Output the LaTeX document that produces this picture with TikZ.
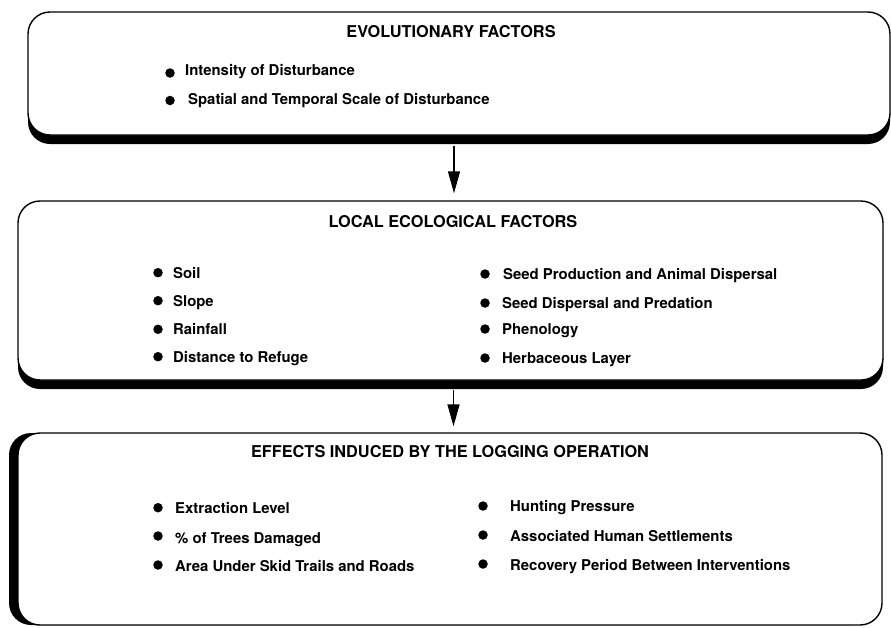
\documentclass[tikz,border=0pt]{standalone}
\usepackage{fontspec}
\setmainfont{TeX Gyre Heros}
\usetikzlibrary{shadows,arrows.meta}
\begin{document}
\begin{tikzpicture}[x=1pt,y=-1pt,
  panel/.style={draw,line width=1.4pt,fill=white,rounded corners=22pt,inner sep=0pt},
  shadowdown/.style={drop shadow={shadow xshift=0pt,shadow yshift=-9pt,opacity=1,fill=black}},
  shadowleft/.style={drop shadow={shadow xshift=-9pt,shadow yshift=0pt,opacity=1,fill=black}},
  ttl/.style={font=\fontsize{16.3}{18}\selectfont\bfseries,inner sep=0pt,anchor=base},
  itm/.style={font=\fontsize{14.9}{17}\selectfont\bfseries,inner sep=0pt,anchor=base west},
  dot/.style={circle,fill=black,inner sep=0pt,minimum size=9.5pt},
  arr/.style={line width=1.4pt,-{Triangle[length=22pt,width=12pt]}}]
\useasboundingbox (0,0) rectangle (891,627);

% panels
\node[panel,shadowdown,minimum width=862pt,minimum height=123pt] (b1) at (459,73.5) {};
\node[panel,shadowdown,minimum width=865pt,minimum height=179pt] (b2) at (450.5,290.5) {};
\node[panel,shadowleft,minimum width=864pt,minimum height=192pt] (b3) at (450,529) {};

% titles
\node[ttl] (t1) at (451,37) {EVOLUTIONARY FACTORS};
\node[ttl] (t2) at (453,227) {LOCAL ECOLOGICAL FACTORS};
\node[ttl] (t3) at (450,457) {EFFECTS INDUCED BY THE LOGGING OPERATION};

% box 1 items
\node[dot] (d11) at (170,73) {};
\node[itm] (i11) at (185,75) {Intensity of Disturbance};
\node[dot] (d12) at (170,100.5) {};
\node[itm] (i12) at (188,104) {Spatial and Temporal Scale of Disturbance};

% box 2 left
\node[dot] (d21) at (158,272.7) {};
\node[itm] (i21) at (173,278) {Soil};
\node[dot] (d22) at (158,300.7) {};
\node[itm] (i22) at (173,306) {Slope};
\node[dot] (d23) at (158,329.3) {};
\node[itm] (i23) at (173,334) {Rainfall};
\node[dot] (d24) at (158,356.7) {};
\node[itm] (i24) at (173,362) {Distance to Refuge};

% box 2 right
\node[dot] (d25) at (485,274) {};
\node[itm] (i25) at (503,279) {Seed Production and Animal Dispersal};
\node[dot] (d26) at (485,303) {};
\node[itm] (i26) at (502,308) {Seed Dispersal and Predation};
\node[dot] (d27) at (485,329) {};
\node[itm] (i27) at (502,334) {Phenology};
\node[dot] (d28) at (485,358) {};
\node[itm] (i28) at (502,363) {Herbaceous Layer};

% box 3 left
\node[dot] (d31) at (158,507.7) {};
\node[itm] (i31) at (175,513) {Extraction Level};
\node[dot] (d32) at (158,536) {};
\node[itm] (i32) at (175,543) {\% of Trees Damaged};
\node[dot] (d33) at (158,565) {};
\node[itm] (i33) at (175,571) {Area Under Skid Trails and Roads};

% box 3 right
\node[dot] (d34) at (483,506) {};
\node[itm] (i34) at (510,511) {Hunting Pressure};
\node[dot] (d35) at (483,535) {};
\node[itm] (i35) at (510,541) {Associated Human Settlements};
\node[dot] (d36) at (483,564) {};
\node[itm] (i36) at (510,570) {Recovery Period Between Interventions};

% arrows
\draw[arr] ([xshift=-5pt,yshift=-10pt]b1.south) -- ([xshift=3.5pt,yshift=7pt]b2.north);
\draw[arr] ([xshift=3pt,yshift=-9pt]b2.south) -- ([xshift=3.5pt,yshift=6pt]b3.north);
\end{tikzpicture}
\end{document}
